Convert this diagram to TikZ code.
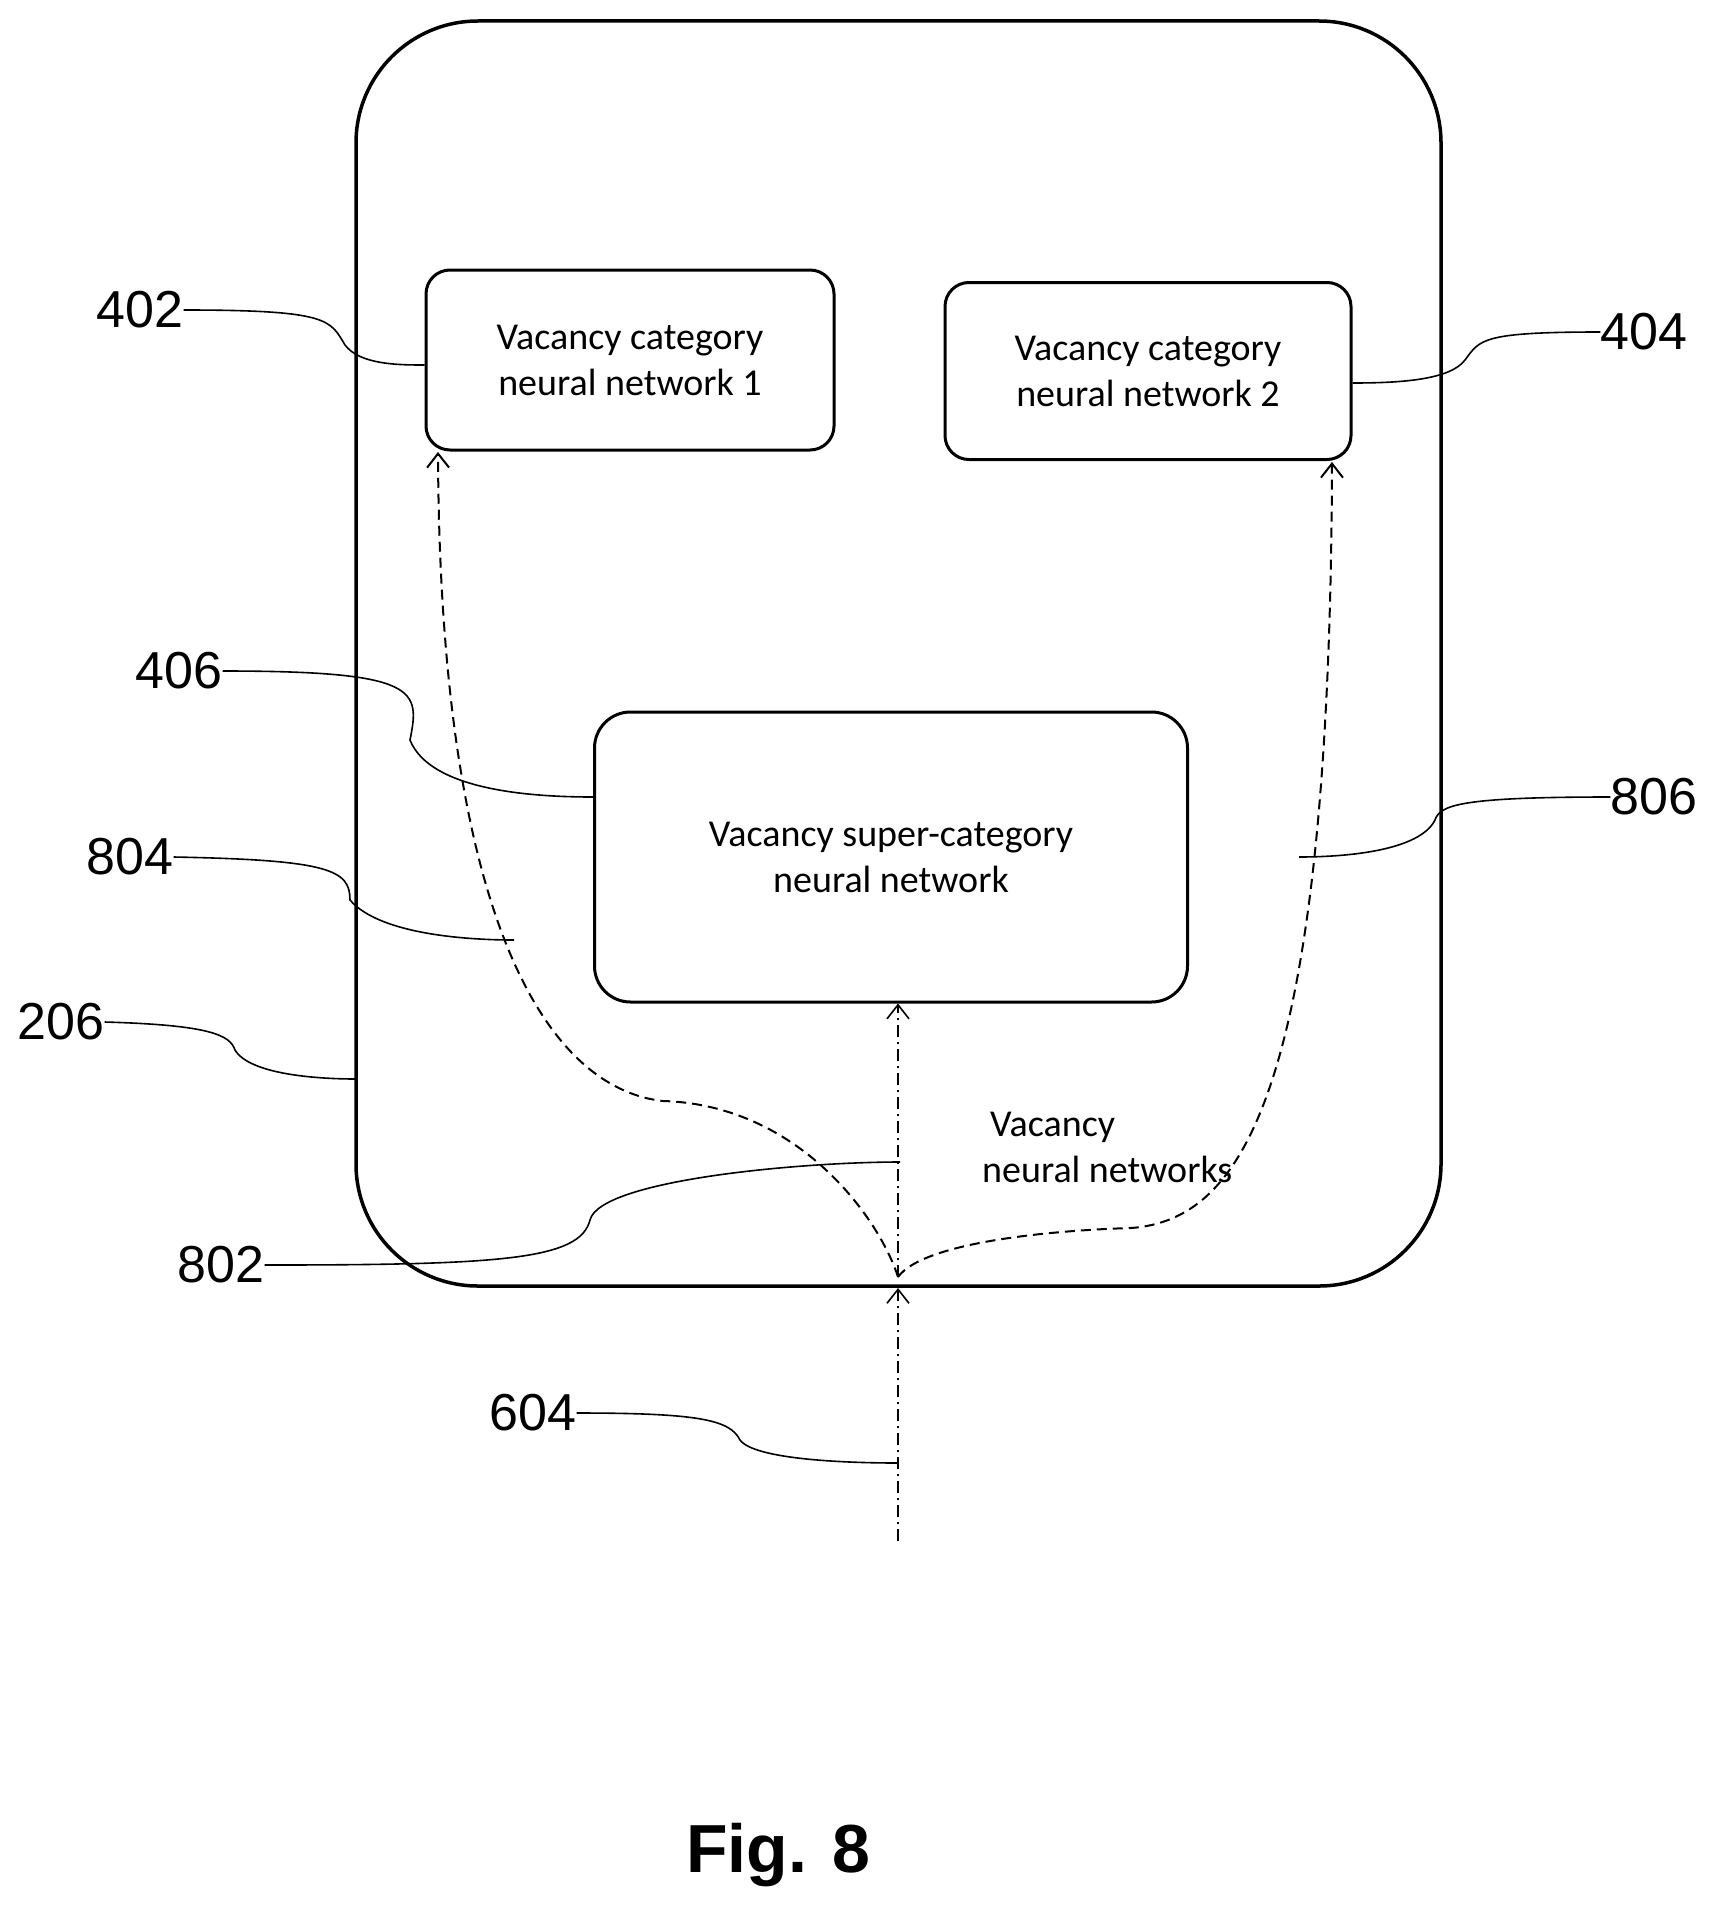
\documentclass[tikz,border=0pt]{standalone}
\usepackage{fontspec}
\setmainfont{Liberation Sans}
\newfontfamily\carfont{Carlito}
\usetikzlibrary{arrows.meta}
\begin{document}
\begin{tikzpicture}[x=1pt,y=-1pt,
  box/.style={draw,line width=3pt,rounded corners=24pt,font=\carfont\fontsize{38}{46}\selectfont,align=center,inner sep=0pt},
  lbl/.style={font=\fontsize{52}{60}\selectfont,inner sep=0pt},
  lead/.style={line width=1.6pt},
  dsh/.style={line width=2pt,dash pattern=on 10pt off 6pt,-{Straight Barb[length=14pt,width=22pt]}},
  dd/.style={line width=1.6pt,dash pattern=on 12pt off 5pt on 2pt off 5pt}]
\useasboundingbox (0,0) rectangle (1715,1911);
\draw[line width=3.5pt,rounded corners=122pt] (356,21) rectangle (1441,1286);
\node[box,minimum width=408pt,minimum height=180pt] (b1) at (630,360) {Vacancy category\\neural network 1};
\node[box,minimum width=406pt,minimum height=177pt] (b2) at (1148,371) {Vacancy category\\neural network 2};
\node[box,rounded corners=36pt,minimum width=593pt,minimum height=290pt] (b3) at (891,857) {Vacancy super-category\\neural network};
\node[font=\carfont\fontsize{38}{46}\selectfont,align=left,anchor=north west,inner sep=0pt] (vn) at (982,1112) {\hspace*{8pt}Vacancy\\neural networks};
\coordinate (s) at (898,1277);
\coordinate (bot) at (898,1541);
\draw[dd,-{Straight Barb[length=14pt,width=22pt]}] (bot) -- (898,1288);
\draw[dd,-{Straight Barb[length=14pt,width=22pt]}] (s) -- (b3.south -| s);
\draw[dsh] (s) .. controls (880,1220) and (800,1105) .. (663,1101) .. controls (560,1090) and (440,950) .. (438,452);
\draw[dsh] (s) .. controls (924,1241) and (1060,1230) .. (1131,1228) .. controls (1240,1220) and (1330,1100) .. (1332,462);
\node[lbl] (l402) at (140,310) {402};
\node[lbl] (l404) at (1644,332) {404};
\node[lbl] (l406) at (179,671) {406};
\node[lbl] (l804) at (130,857) {804};
\node[lbl] (l206) at (61,1022) {206};
\node[lbl] (l802) at (221,1265) {802};
\node[lbl] (l806) at (1654,797) {806};
\node[lbl] (l604) at (533,1413) {604};
\node[font=\bfseries\fontsize{68}{76}\selectfont] (fig) at (778,1855) {Fig. 8};
\draw[lead] (l402.east) .. controls (330,310) and (330,320) .. (345,345) .. controls (360,365) and (400,365) .. (b1.west |- 0,365);
\draw[lead] (l404.west) .. controls (1480,332) and (1480,340) .. (1465,360) .. controls (1450,380) and (1400,383) .. (b2.east |- 0,383);
\draw[lead] (l406.east) .. controls (420,671) and (420,690) .. (410,740) .. controls (430,790) and (530,797) .. (b3.west |- 0,797);
\draw[lead] (l804.east) .. controls (330,860) and (350,870) .. (350,900) .. controls (380,935) and (470,940) .. (514,940);
\draw[lead] (l206.east) .. controls (210,1025) and (230,1035) .. (235,1050) .. controls (250,1075) and (320,1079) .. (356,1079);
\draw[lead] (l802.east) .. controls (500,1265) and (580,1260) .. (590,1220) .. controls (600,1180) and (800,1162) .. (900,1162);
\draw[lead] (l806.west) .. controls (1460,797) and (1440,805) .. (1435,820) .. controls (1420,850) and (1350,857) .. (1299,857);
\draw[lead] (l604.east) .. controls (700,1413) and (730,1420) .. (740,1440) .. controls (755,1460) and (850,1463) .. (898,1463);
\end{tikzpicture}
\end{document}
